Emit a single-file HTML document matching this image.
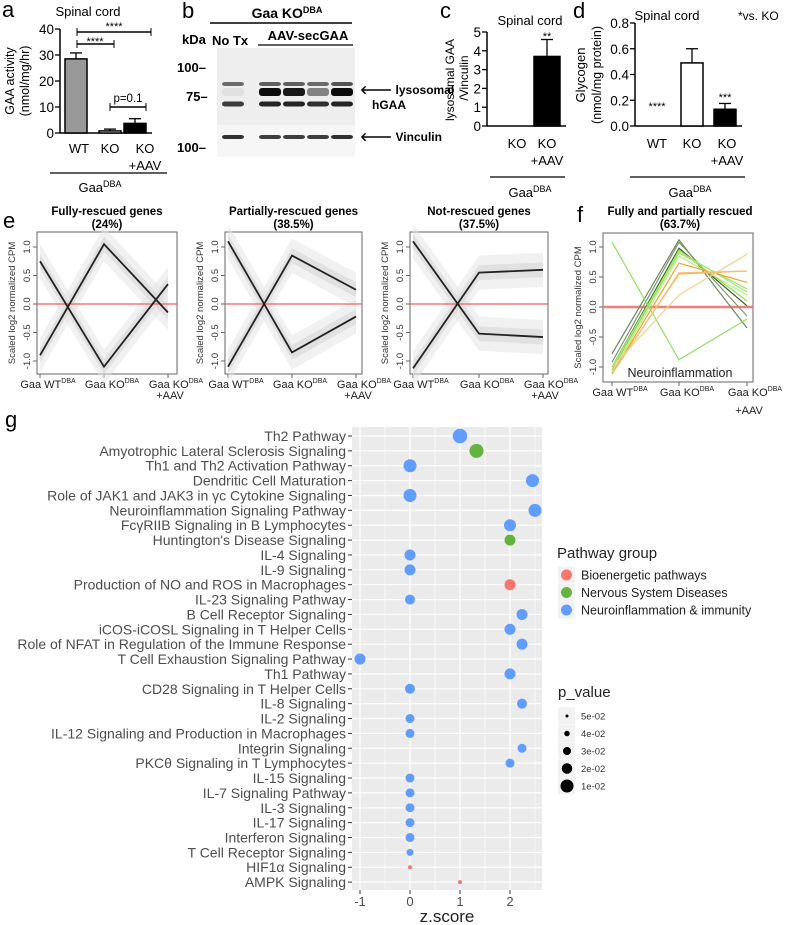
<!DOCTYPE html>
<html><head><meta charset="utf-8">
<style>
body{margin:0;background:#fff;}
svg{display:block;font-family:"Liberation Sans",Arial,sans-serif;}
</style></head>
<body>
<svg id="fig" width="787" height="925" viewBox="0 0 787 925" xmlns="http://www.w3.org/2000/svg">
<!-- Panel a -->
<g>
<text x="2" y="17" font-size="22">a</text>
<text x="88" y="16" font-size="13" text-anchor="middle">Spinal cord</text>
<text transform="translate(14,81) rotate(-90)" font-size="12.5" text-anchor="middle">GAA activity</text>
<text transform="translate(29,81) rotate(-90)" font-size="12.5" text-anchor="middle">(nmol/mg/hr)</text>
<g id="aAxis"></g>
<g id="aBars"></g>
<line x1="77" y1="32" x2="151" y2="32" stroke="#000" stroke-width="1.5"/><line x1="77" y1="28" x2="77" y2="36" stroke="#000"/><line x1="151" y1="28" x2="151" y2="36" stroke="#000"/>
<text x="114" y="30" font-size="11" text-anchor="middle">****</text>
<line x1="77" y1="44" x2="114" y2="44" stroke="#000" stroke-width="1.5"/><line x1="77" y1="40" x2="77" y2="48" stroke="#000"/><line x1="114" y1="40" x2="114" y2="48" stroke="#000"/>
<text x="95" y="45" font-size="11" text-anchor="middle">****</text>
<line x1="110" y1="107" x2="146" y2="107" stroke="#000" stroke-width="1.5"/><line x1="110" y1="103" x2="110" y2="111" stroke="#000"/><line x1="146" y1="103" x2="146" y2="111" stroke="#000"/>
<text x="128" y="102" font-size="11.5" text-anchor="middle">p=0.1</text>
<text x="79" y="153" font-size="13" text-anchor="middle">WT</text>
<text x="110" y="153" font-size="13" text-anchor="middle">KO</text>
<text x="145" y="153" font-size="13" text-anchor="middle">KO</text>
<text x="145" y="170" font-size="13" text-anchor="middle">+AAV</text>
<line x1="50" y1="173" x2="167" y2="173" stroke="#000" stroke-width="1.2"/>
<text x="100" y="192" font-size="13" text-anchor="middle">Gaa<tspan font-size="9" dy="-5">DBA</tspan></text>
</g>
<!-- Panel b -->
<g>
<text x="182" y="18" font-size="22">b</text>
<text x="287" y="18" font-size="14" font-weight="bold" text-anchor="middle">Gaa KO<tspan font-size="9" dy="-5">DBA</tspan></text>
<line x1="210" y1="23" x2="352" y2="23" stroke="#000" stroke-width="1.5"/>
<text x="182" y="44" font-size="13" font-weight="bold">kDa</text>
<text x="212" y="45" font-size="13" font-weight="bold">No Tx</text>
<text x="308" y="40" font-size="13" font-weight="bold" text-anchor="middle">AAV-secGAA</text>
<line x1="258" y1="45" x2="353" y2="45" stroke="#000" stroke-width="1.2"/>
<rect x="217" y="48" width="138" height="77" fill="#eeeeee"/>
<rect x="217" y="125" width="138" height="32" fill="#f6f6f6"/>
<g id="blot"></g>
<text x="177" y="72" font-size="13" font-weight="bold">100–</text>
<text x="186" y="101" font-size="13" font-weight="bold">75–</text>
<text x="177" y="152" font-size="13" font-weight="bold">100–</text>
<text x="360" y="94" font-size="12" font-weight="bold">🡐 lysosomal</text>
<text x="372" y="109" font-size="12" font-weight="bold">hGAA</text>
<text x="360" y="141" font-size="12" font-weight="bold">🡐 Vinculin</text>
</g>
<!-- Panel c -->
<g>
<text x="440" y="18" font-size="22">c</text>
<text x="530" y="25" font-size="13" text-anchor="middle">Spinal cord</text>
<text transform="translate(454,80) rotate(-90)" font-size="12" text-anchor="middle">lysosomal GAA</text>
<text transform="translate(468,78) rotate(-90)" font-size="12" text-anchor="middle">/Vinculin</text>
<g id="cAxis"></g>
<g id="cBars"></g>
<text x="547" y="40" font-size="11" text-anchor="middle">**</text>
<text x="517" y="148" font-size="13" text-anchor="middle">KO</text>
<text x="547" y="148" font-size="13" text-anchor="middle">KO</text>
<text x="547" y="165" font-size="13" text-anchor="middle">+AAV</text>
<line x1="490" y1="177" x2="565" y2="177" stroke="#000" stroke-width="1.2"/>
<text x="530" y="197" font-size="13" text-anchor="middle">Gaa<tspan font-size="9" dy="-5">DBA</tspan></text>
</g>
<!-- Panel d -->
<g>
<text x="573" y="18" font-size="22">d</text>
<text x="667" y="20" font-size="13" text-anchor="middle">Spinal cord</text>
<text x="738" y="20" font-size="12">*vs. KO</text>
<text transform="translate(585,75) rotate(-90)" font-size="13" text-anchor="middle">Glycogen</text>
<text transform="translate(601,75) rotate(-90)" font-size="12.5" text-anchor="middle">(nmol/mg protein)</text>
<g id="dAxis"></g>
<g id="dBars"></g>
<text x="657" y="110" font-size="11" text-anchor="middle">****</text>
<text x="725" y="101" font-size="11" text-anchor="middle">***</text>
<text x="657" y="148" font-size="13" text-anchor="middle">WT</text>
<text x="692" y="148" font-size="13" text-anchor="middle">KO</text>
<text x="727" y="148" font-size="13" text-anchor="middle">KO</text>
<text x="727" y="165" font-size="13" text-anchor="middle">+AAV</text>
<line x1="630" y1="177" x2="745" y2="177" stroke="#000" stroke-width="1.2"/>
<text x="690" y="197" font-size="13" text-anchor="middle">Gaa<tspan font-size="9" dy="-5">DBA</tspan></text>
</g>
<text x="3" y="228" font-size="22">e</text>
<text x="577" y="222" font-size="22">f</text>
<g id="eplots"></g>
<text x="5" y="427" font-size="22">g</text>
<g id="gplot"></g>
<g id="glegend"></g>
</svg>
<script>
// ---------- bar chart data ----------
const aCats=["WT","KO","KO+AAV"];
const aVals=[28.5,0.8,3.7];
const aErr=[30.8,1.5,5.5];
const aTicks=[0,10,20,30,40];
const cCats=["KO","KO+AAV"];
const cVals=[0,3.7];
const cErr=[0,4.6];
const cTicks=[0,1,2,3,4,5];
const dCats=["WT","KO","KO+AAV"];
const dVals=[0,0.49,0.13];
const dErr=[0,0.6,0.175];
const dTicks=[0,0.2,0.4,0.6,0.8];
const dTickLabels=["0.0","0.2","0.4","0.6","0.8"];
// ---------- blot band intensities (lanes) ----------
const blotLanes=["NoTx","AAV1","AAV2","AAV3","AAV4"];
const band84=[0.55,0.6,0.6,0.55,0.65];
const band92=[0.05,0.95,0.9,0.45,0.95];
const band104=[0.75,0.85,0.85,0.8,0.85];
const bandVinc=[0.8,0.75,0.75,0.75,0.8];
// ---------- panel e/f data ----------
const eTitles=["Fully-rescued genes","Partially-rescued genes","Not-rescued genes"];
const ePcts=["(24%)","(38.5%)","(37.5%)"];
const eLineA=[[0.75,-1.1,0.35],[1.1,-0.85,-0.22],[1.1,-0.52,-0.58]];
const eLineB=[[-0.9,1.05,-0.15],[-1.1,0.85,0.25],[-1.13,0.55,0.6]];
const fLines=[[-1.0,0.98,0.02],[-0.78,1.12,-0.35],[-0.92,1.08,-0.15],[-1.05,0.9,0.3],[-1.1,0.85,0.2],[-1.05,0.95,0.1],[-1.0,0.93,0.25],[1.08,-0.88,-0.2],[-1.12,0.73,0.41],[-1.1,0.55,0.6],[-1.0,0.2,0.88],[-1.12,0.57,0.6]];
const fColors=["#3b5a2a","#6a8a5a","#7a9a6a","#9be070","#b5ef7d","#8edc55","#a8e870","#8fe060","#f0a030","#f3b050","#f8cf90","#f5c070"];
const eTicks=[-1,-0.5,0,0.5,1];
const eTickLabels=["-1.0","-0.5","0.0","0.5","1.0"];
// ---------- panel g data ----------
const pathways=["Th2 Pathway","Amyotrophic Lateral Sclerosis Signaling","Th1 and Th2 Activation Pathway","Dendritic Cell Maturation","Role of JAK1 and JAK3 in γc Cytokine Signaling","Neuroinflammation Signaling Pathway","FcγRIIB Signaling in B Lymphocytes","Huntington's Disease Signaling","IL-4 Signaling","IL-9 Signaling","Production of NO and ROS in Macrophages","IL-23 Signaling Pathway","B Cell Receptor Signaling","iCOS-iCOSL Signaling in T Helper Cells","Role of NFAT in Regulation of the Immune Response","T Cell Exhaustion Signaling Pathway","Th1 Pathway","CD28 Signaling in T Helper Cells","IL-8 Signaling","IL-2 Signaling","IL-12 Signaling and Production in Macrophages","Integrin Signaling","PKCθ Signaling in T Lymphocytes","IL-15 Signaling","IL-7 Signaling Pathway","IL-3 Signaling","IL-17 Signaling","Interferon Signaling","T Cell Receptor Signaling","HIF1α Signaling","AMPK Signaling"];
const zscores=[1,1.33,0,2.45,0,2.5,2,2,0,0,2,0,2.24,2,2.24,-1,2,0,2.24,0,0,2.24,2,0,0,0,0,0,0,0,1];
const groups=["N","S","N","N","N","N","N","S","N","N","B","N","N","N","N","N","N","N","N","N","N","N","N","N","N","N","N","N","N","B","B"];
const pvalues=[0.004,0.006,0.01,0.01,0.01,0.01,0.014,0.018,0.018,0.018,0.018,0.022,0.018,0.018,0.018,0.018,0.018,0.022,0.022,0.026,0.026,0.026,0.026,0.026,0.026,0.026,0.026,0.026,0.034,0.046,0.046];
const zTicks=[-1,0,1,2];
const groupNames=["Bioenergetic pathways","Nervous System Diseases","Neuroinflammation & immunity"];
const groupKeys=["B","S","N"];
const groupColors=["#F8766D","#64b33e","#619CFF"];
const pLegend=[0.05,0.04,0.03,0.02,0.01];
const pLegendLabels=["5e-02","4e-02","3e-02","2e-02","1e-02"];

const NS="http://www.w3.org/2000/svg";
function mk(tag,attrs,parent,text){const e=document.createElementNS(NS,tag);for(const k in attrs)e.setAttribute(k,attrs[k]);if(text!==undefined)e.textContent=text;parent.appendChild(e);return e;}

// ---------- bar charts ----------
function barChart(gAxis,gBars,ax,y0,y1,vmax,ticks,tlabels,centers,vals,errs,fills,w){
  const ys=v=>y0-(v/vmax)*(y0-y1);
  const l=mk('line',{x1:ax,y1:ys(0),x2:ax,y2:ys(vmax),stroke:'#000','stroke-width':1.5},gAxis);
  
  mk('line',{x1:ax,y1:ys(0),x2:centers[centers.length-1]+w/2+6,y2:ys(0),stroke:'#000','stroke-width':1.5},gAxis);
  ticks.forEach((t,i)=>{
    mk('line',{x1:ax-5,y1:ys(t),x2:ax,y2:ys(t),stroke:'#000','stroke-width':1.3},gAxis);
    const tx=mk('text',{x:ax-6,y:ys(t)+5,'font-size':13.5,'text-anchor':'end'},gAxis,tlabels[i]);
    
  });
  vals.forEach((v,i)=>{
    if(errs[i]>v){mk('line',{x1:centers[i],y1:ys(v),x2:centers[i],y2:ys(errs[i]),stroke:'#000','stroke-width':1.3},gBars);
      mk('line',{x1:centers[i]-6,y1:ys(errs[i]),x2:centers[i]+6,y2:ys(errs[i]),stroke:'#000','stroke-width':1.3},gBars);}
    if(v>0){const r=mk('rect',{x:centers[i]-w/2,y:ys(v),width:w,height:ys(0)-ys(v),fill:fills[i],stroke:'#000','stroke-width':1.5},gBars);
      }
  });
}
barChart(document.getElementById('aAxis'),document.getElementById('aBars'),60,133,29,40,aTicks,aTicks.map(String),[76,110,135],aVals,aErr,['#999','#fff','#000'],22);
barChart(document.getElementById('cAxis'),document.getElementById('cBars'),487,126,32,5,cTicks,cTicks.map(String),[517,547],cVals,cErr,['#fff','#000'],26);
barChart(document.getElementById('dAxis'),document.getElementById('dBars'),635,126,23,0.8,dTicks,dTickLabels,[657,692,725],dVals,dErr,['#fff','#fff','#000'],22);

// ---------- blot ----------
(function(){
  const g=document.getElementById('blot');const xs=[233,270,294,318,342];
  const draw=(arr,y,h)=>arr.forEach((v,i)=>{const b=mk('rect',{x:xs[i]-11,y:y-h/2,width:22,height:h,rx:3,fill:'#000','fill-opacity':v},g);
    });
  draw(band84,84,4);draw(band92,92,8);draw(band104,104,5);draw(bandVinc,137,4);
})();

// ---------- panel e / f line plots ----------
(function(){
  const g=document.getElementById('eplots');
  function plot(bx0,bx1,tx,yTop,yBot,y0,ppu,title,pct,titleX){
    const ys=v=>y0-v*ppu;
    mk('rect',{x:bx0,y:yTop,width:bx1-bx0,height:yBot-yTop,fill:'none',stroke:'#666','stroke-width':1},g);
    const t=mk('text',{x:titleX,y:215,'font-size':11.5,'font-weight':'bold','text-anchor':'middle'},g,title);
    
    mk('text',{x:titleX,y:228,'font-size':11.5,'font-weight':'bold','text-anchor':'middle'},g,pct);
    eTicks.forEach((v,i)=>{mk('line',{x1:bx0-4,y1:ys(v),x2:bx0,y2:ys(v),stroke:'#666'},g);
      const l=mk('text',{transform:`translate(${bx0-7},${ys(v)}) rotate(-90)`,'font-size':9.5,'text-anchor':'middle',fill:'#333'},g,eTickLabels[i]);
      });
    const yt=mk('text',{transform:`translate(${bx0-22},${(yTop+yBot)/2}) rotate(-90)`,'font-size':9.5,'text-anchor':'middle',fill:'#333'},g,'Scaled log2 normalized CPM');
    
    const labs=['Gaa WT','Gaa KO','Gaa KO'];
    tx.forEach((x,i)=>{mk('line',{x1:x,y1:yBot,x2:x,y2:yBot+4,stroke:'#666'},g);
      const l=mk('text',{x:x+8,y:yBot+14,'font-size':11,'text-anchor':'middle',fill:'#222'},g);
      
      l.textContent=labs[i];const s=mk('tspan',{'font-size':7,dy:-5},l,'DBA');});
    return ys;
  }
  const eBoxes=[[37,177,[40,104,168]],[225,362,[228,292,356]],[410,548,[413,479,543]]];
  eBoxes.forEach((b,k)=>{
    const ys=plot(b[0],b[1],b[2],232,374,304,57,eTitles[k],ePcts[k],(b[0]+b[1])/2);
    [eLineA[k],eLineB[k]].forEach(L=>{
      const up=L.map((v,i)=>b[2][i]+','+ys(v+0.13)).join(' ');
      const dn=L.map((v,i)=>b[2][i]+','+ys(v-0.13)).reverse().join(' ');
      mk('polygon',{points:up+' '+dn,fill:'#d0d0d0','fill-opacity':0.7},g);
      const wup=L.map((v,i)=>b[2][i]+','+ys(v+0.3)).join(' ');
      const wdn=L.map((v,i)=>b[2][i]+','+ys(v-0.3)).reverse().join(' ');
      mk('polygon',{points:wup+' '+wdn,fill:'#e4e4e4','fill-opacity':0.5},g);
    });
    mk('line',{x1:b[0],y1:ys(0),x2:b[1],y2:ys(0),stroke:'#f06060','stroke-width':1.2},g);
    [eLineA[k],eLineB[k]].forEach(L=>{
      const p=mk('polyline',{points:L.map((v,i)=>b[2][i]+','+ys(v)).join(' '),fill:'none',stroke:'#222','stroke-width':1.8},g);
      
    });
    mk('text',{x:b[2][2]+2,y:399,'font-size':11,'text-anchor':'middle',fill:'#222'},g,'+AAV');
  });
  // panel f
  const fx=[612,679,747];
  const ys=plot(603,753,fx,233,382,307,60,'Fully and partially rescued','(63.7%)',680);
  mk('line',{x1:603,y1:ys(0),x2:753,y2:ys(0),stroke:'#f08080','stroke-width':2.5},g);
  fLines.forEach((L,k)=>{
    const p=mk('polyline',{points:L.map((v,i)=>fx[i]+','+ys(v)).join(' '),fill:'none',stroke:fColors[k],'stroke-width':1.2},g);
    
  });
  const nt=mk('text',{x:680,y:377,'font-size':12.5,'text-anchor':'middle',fill:'#222'},g,'Neuroinflammation');
  
  mk('text',{x:fx[2]+2,y:414,'font-size':11,'text-anchor':'middle',fill:'#222'},g,'+AAV');
})();

// ---------- panel g ----------
(function(){
  const g=document.getElementById('gplot');
  const px0=352,px1=542,py0=427,py1=890;
  const xs=z=>410+z*50;
  const rowY=i=>436+i*14.87;
  const rad=p=>1.5+(0.05-p)*125;
  mk('rect',{x:px0,y:py0,width:px1-px0,height:py1-py0,fill:'#ebebeb'},g);
  [-0.5,0.5,1.5,2.5].forEach(z=>mk('line',{x1:xs(z),y1:py0,x2:xs(z),y2:py1,stroke:'#fff','stroke-width':0.6},g));
  zTicks.forEach(z=>mk('line',{x1:xs(z),y1:py0,x2:xs(z),y2:py1,stroke:'#fff','stroke-width':1.2},g));
  pathways.forEach((n,i)=>mk('line',{x1:px0,y1:rowY(i),x2:px1,y2:rowY(i),stroke:'#fff','stroke-width':1.2},g));
  pathways.forEach((n,i)=>{
    mk('line',{x1:px0-4,y1:rowY(i),x2:px0,y2:rowY(i),stroke:'#333'},g);
    const t=mk('text',{x:px0-6,y:rowY(i)+5,'font-size':14,'text-anchor':'end',fill:'#4d4d4d'},g,n);
    
  });
  pathways.forEach((n,i)=>{
    const c=mk('circle',{cx:xs(zscores[i]),cy:rowY(i),r:rad(pvalues[i]),fill:groupColors[groupKeys.indexOf(groups[i])]},g);
    
  });
  zTicks.forEach(z=>{mk('line',{x1:xs(z),y1:py1,x2:xs(z),y2:py1+4,stroke:'#333'},g);
    const t=mk('text',{x:xs(z),y:py1+16,'font-size':13,'text-anchor':'middle',fill:'#4d4d4d'},g,String(z));
    });
  const xt=mk('text',{x:447,y:922,'font-size':17,'text-anchor':'middle',fill:'#222'},g,'z.score');
  
  // legend
  const L=document.getElementById('glegend');
  const t1=mk('text',{x:557,y:558,'font-size':15,fill:'#222'},L,'Pathway group');
  
  groupNames.forEach((n,i)=>{const y=575+i*17.5;
    mk('rect',{x:558,y:y-8.5,width:17,height:17,fill:'#f2f2f2'},L);
    mk('circle',{cx:566.5,cy:y,r:5.5,fill:groupColors[i]},L);
    const t=mk('text',{x:581,y:y+4.5,'font-size':12.5,fill:'#222'},L,n);
    });
  const t2=mk('text',{x:558,y:697,'font-size':15,fill:'#222'},L,'p_value');
  
  pLegend.forEach((p,i)=>{const y=716+i*17.5;
    mk('rect',{x:558,y:y-8.5,width:17,height:17,fill:'#f2f2f2'},L);
    mk('circle',{cx:567,cy:y,r:rad(p),fill:'#000'},L);
    const t=mk('text',{x:581,y:y+3.5,'font-size':9.5,fill:'#333'},L,pLegendLabels[i]);
    });
})();
</script>
</body></html>
